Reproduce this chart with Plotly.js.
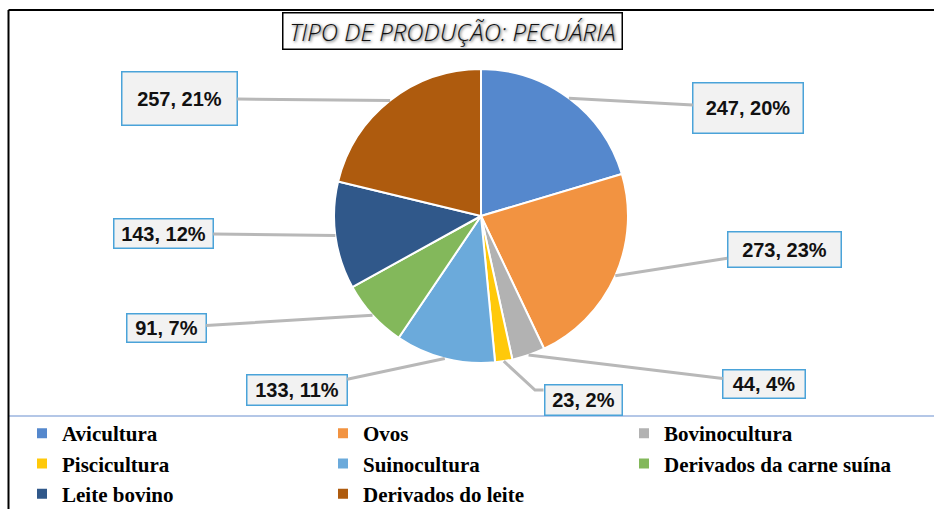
<!DOCTYPE html>
<html>
<head>
<meta charset="utf-8">
<script src="https://cdn.plot.ly/plotly-3.0.1.min.js"></script>
<style>html,body{margin:0;padding:0;background:#fff;overflow:hidden;}#chart{width:934px;height:530px;}</style>
</head>
<body>
<div id="chart"></div>
<script>
// ---- data ----
var categories = ["Avicultura", "Ovos", "Bovinocultura", "Piscicultura", "Suinocultura", "Derivados da carne suína", "Leite bovino", "Derivados do leite"];
var values = [247, 273, 44, 23, 133, 91, 143, 257];
var percentLabels = ["20%", "23%", "4%", "2%", "11%", "7%", "12%", "21%"];
var colors = ["#5588CD", "#F29341", "#B2B2B2", "#FFC90A", "#6BAADB", "#83B85B", "#30588A", "#AE5B0E"];
var titleText = "TIPO DE PRODUÇÃO: PECUÁRIA";

// ---- layout constants ----
// figure is drawn a bit taller than the 509px window so the legend never pushes the margins
var W = 934, H = 530;
var cx = 481, cy = 216, r = 147;
// label box centers and sizes (px), same order as categories; elbow = optional bend of the leader line
var boxes = [
  {x: 748, y: 108, w: 112, h: 52},
  {x: 784, y: 249.5, w: 115, h: 37},
  {x: 764, y: 383.5, w: 84, h: 30},
  {x: 583, y: 400, w: 79, h: 32, elbow: [535, 390]},
  {x: 297, y: 390, w: 102, h: 32},
  {x: 166.5, y: 328, w: 81, h: 30},
  {x: 163.5, y: 233.5, w: 101, h: 31},
  {x: 179.5, y: 98.5, w: 117, h: 55}
];
var leaderColor = "#B8B8B8";

function px(x) { return x / W; }
function py(y) { return 1 - y / H; }

var total = values.reduce(function(a, b){ return a + b; }, 0);
var annotations = [];
var shapes = [
  {type: "line", xref: "paper", yref: "paper", x0: px(9), x1: 1, y0: py(416), y1: py(416), line: {color: "#B4C7E7", width: 2}},
  {type: "line", xref: "paper", yref: "paper", x0: px(8.5), x1: 1, y0: py(10), y1: py(10), line: {color: "#000", width: 2}},
  {type: "line", xref: "paper", yref: "paper", x0: px(8.5), x1: px(8.5), y0: 0, y1: py(10), line: {color: "#000", width: 2}}
];
var cum = 0;
for (var i = 0; i < values.length; i++) {
  var mid = (cum + values[i] / 2) / total;
  cum += values[i];
  var th = mid * 2 * Math.PI;
  var hx = cx + r * Math.sin(th);
  var hy = cy - r * Math.cos(th);
  var b = boxes[i];
  var ann = {
    xref: "paper", yref: "paper",
    text: "<b>" + values[i] + ", " + percentLabels[i] + "</b>",
    font: {family: "Liberation Sans, Arial, sans-serif", size: 20, color: "#111"},
    bgcolor: "#F2F2F2", bordercolor: "#4AA3D9", borderwidth: 1.5, borderpad: 1,
    width: b.w - 5, height: b.h - 5, align: "center", valign: "middle"
  };
  if (b.elbow) {
    var ex = b.elbow[0], ey = b.elbow[1];
    var bx = b.x - b.w / 2;
    shapes.push({
      type: "path", xref: "paper", yref: "paper",
      path: "M" + px(hx) + "," + py(hy) + " L" + px(ex) + "," + py(ey) + " L" + px(bx) + "," + py(ey),
      line: {color: leaderColor, width: 3}
    });
    ann.x = px(b.x); ann.y = py(b.y); ann.showarrow = false;
    ann.xanchor = "center"; ann.yanchor = "middle";
  } else {
    ann.x = px(hx); ann.y = py(hy);
    ann.ax = b.x - hx; ann.ay = b.y - hy;
    ann.showarrow = true; ann.arrowhead = 0; ann.arrowwidth = 3; ann.arrowcolor = leaderColor;
    ann.standoff = 0; ann.startstandoff = 0;
  }
  annotations.push(ann);
}
// title box
annotations.push({
  xref: "paper", yref: "paper", x: px(452), y: py(31), xanchor: "center", yanchor: "middle",
  showarrow: false, text: titleText,
  font: {family: "Open Sans, sans-serif", size: 24, color: "#111", style: "italic", weight: 300, shadow: "1px 1px 3px #444"},
  bgcolor: "#FFFFFF", bordercolor: "#000000", borderwidth: 1.5, borderpad: 1,
  width: 336, height: 33
});

var data = [{
  type: "pie",
  labels: categories,
  values: values,
  sort: false,
  direction: "clockwise",
  rotation: 0,
  textinfo: "none",
  marker: {colors: colors, line: {color: "#FFFFFF", width: 2}},
  domain: {x: [px(cx - r), px(cx + r)], y: [py(cy + r), py(cy - r)]},
  hoverinfo: "label+value+percent"
}];

var layout = {
  width: W, height: H,
  margin: {l: 0, r: 0, t: 0, b: 0},
  paper_bgcolor: "#FFFFFF",
  showlegend: true,
  legend: {
    orientation: "h", x: px(22), y: py(413), xanchor: "left", yanchor: "top",
    bgcolor: "rgba(0,0,0,0)", borderwidth: 0,
    entrywidth: 256, entrywidthmode: "pixels",
    font: {family: "Liberation Serif, Times New Roman, serif", size: 21, color: "#000", weight: "bold"},
    traceorder: "normal", itemwidth: 30
  },
  annotations: annotations,
  shapes: shapes
};

Plotly.newPlot("chart", data, layout, {displayModeBar: false, staticPlot: true});
</script>
</body>
</html>
